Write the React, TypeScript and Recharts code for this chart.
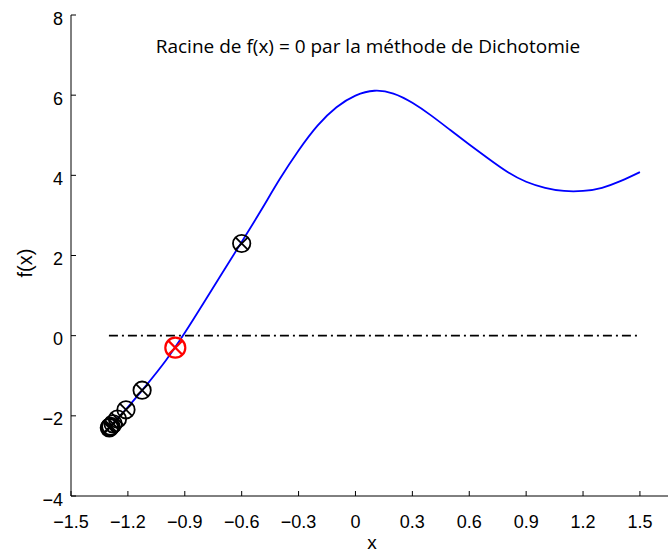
import { ComposedChart, Line, Scatter, XAxis, YAxis } from 'recharts';

// f(x) curve
const CURVE_X = [-1.3, -1.2, -1.1, -1.0, -0.9, -0.8, -0.7, -0.6, -0.5, -0.4, -0.3, -0.2, -0.1, 0.0, 0.1, 0.2, 0.3, 0.4, 0.5, 0.6, 0.7, 0.8, 0.9, 1.0, 1.1, 1.2, 1.3, 1.4, 1.5];
const CURVE_Y = [-2.3, -1.78, -1.22, -0.62, 0.07, 0.82, 1.58, 2.34, 3.11, 3.9, 4.62, 5.24, 5.7, 5.99, 6.11, 6.04, 5.81, 5.49, 5.13, 4.77, 4.42, 4.09, 3.84, 3.69, 3.61, 3.61, 3.69, 3.86, 4.08];

// bisection iterates (black) and the final root (red)
const ITER_X = [-0.6, -1.125, -1.21, -1.255, -1.278, -1.29, -1.295, -1.298];
const ITER_Y = [2.3, -1.36, -1.85, -2.08, -2.2, -2.26, -2.28, -2.3];
const ROOT_X = [-0.95];
const ROOT_Y = [-0.3];

// y = 0 reference
const ZERO_X = [-1.3, 1.5];
const ZERO_Y = [0, 0];

const X_TICKS = [-1.5, -1.2, -0.9, -0.6, -0.3, 0, 0.3, 0.6, 0.9, 1.2, 1.5];
const Y_TICKS = [-4, -2, 0, 2, 4, 6, 8];

const curve = CURVE_X.map((x, i) => ({ x, y: CURVE_Y[i] }));
const iters = ITER_X.map((x, i) => ({ x, y: ITER_Y[i] }));
const root = ROOT_X.map((x, i) => ({ x, y: ROOT_Y[i] }));
const zero = ZERO_X.map((x, i) => ({ x, y: ZERO_Y[i] }));

const AXIS_FONT = '"Liberation Sans", Arial, sans-serif';
const fmt = (v: number) => String(v).replace('-', '\u2212');

function XTick({ x, y, payload }: any) {
  return (
    <g>
      <line x1={x} x2={x} y1={y} y2={y - 5} stroke="#000" strokeWidth={1} />
      <text x={x} y={y + 32} textAnchor="middle" fontSize={18} fontFamily={AXIS_FONT} fill="#000">
        {fmt(payload.value)}
      </text>
    </g>
  );
}

function TopTick({ x, y }: any) {
  return <line x1={x} x2={x} y1={y} y2={y + 5} stroke="#000" strokeWidth={1} />;
}

function YTick({ x, y, payload }: any) {
  return (
    <g>
      <line x1={x} x2={x + 5} y1={y} y2={y} stroke="#000" strokeWidth={1} />
      <text x={x - 8} y={y + 9.5} textAnchor="end" fontSize={18} fontFamily={AXIS_FONT} fill="#000">
        {fmt(payload.value)}
      </text>
    </g>
  );
}

function CrossCircle(color: string, r: number, w: number) {
  return ({ cx, cy }: any) => {
    const d = r * 0.7071;
    return (
      <g>
        <circle cx={cx} cy={cy} r={r} fill="none" stroke={color} strokeWidth={w} />
        <line x1={cx - d} y1={cy - d} x2={cx + d} y2={cy + d} stroke={color} strokeWidth={w} />
        <line x1={cx - d} y1={cy + d} x2={cx + d} y2={cy - d} stroke={color} strokeWidth={w} />
      </g>
    );
  };
}

export default function App() {
  return (
    <div style={{ position: 'absolute', left: 0, top: 0, width: 668, height: 557, background: '#fff' }}>
      <ComposedChart
        width={668}
        height={557}
        margin={{ top: 15, right: 0, bottom: 0, left: 0 }}
      >
        <XAxis
          dataKey="x"
          type="number"
          domain={[-1.5, 1.648]}
          ticks={X_TICKS}
          height={61}
          tickLine={false}
          tickSize={0}
          tickMargin={0}
          tick={<XTick />}
          axisLine={{ stroke: '#000', strokeWidth: 1 }}
          interval={0}
        />
        <XAxis
          xAxisId="top"
          orientation="top"
          dataKey="x"
          type="number"
          domain={[-1.5, 1.648]}
          ticks={X_TICKS}
          height={0}
          tickLine={false}
          tickSize={0}
          tickMargin={0}
          tick={<TopTick />}
          axisLine={{ stroke: '#000', strokeWidth: 1 }}
          interval={0}
        />
        <YAxis
          dataKey="y"
          type="number"
          domain={[-4, 8]}
          ticks={Y_TICKS}
          width={71}
          tickLine={false}
          tickSize={0}
          tickMargin={0}
          tick={<YTick />}
          axisLine={{ stroke: '#000', strokeWidth: 1 }}
          interval={0}
        />
        <Line
          data={zero}
          dataKey="y"
          stroke="#000"
          strokeWidth={1.8}
          strokeDasharray="9 4 2 4"
          dot={false}
          isAnimationActive={false}
        />
        <Line
          data={curve}
          dataKey="y"
          type="natural"
          stroke="#0000ff"
          strokeWidth={1.8}
          dot={false}
          isAnimationActive={false}
        />
        <Scatter data={iters} dataKey="y" shape={CrossCircle('#000', 8.7, 1.8)} isAnimationActive={false} />
        <Scatter data={root} dataKey="y" shape={CrossCircle('#ff0000', 10, 2.2)} isAnimationActive={false} />
      </ComposedChart>
      <div style={{ position: 'absolute', left: 0, width: 736, top: 33, textAlign: 'center', fontFamily: '"Open Sans", sans-serif', fontSize: 19, lineHeight: '26px', color: '#000' }}>
        Racine de f(x) = 0 par la méthode de Dichotomie
      </div>
      <div style={{ position: 'absolute', left: 322, width: 100, top: 532, textAlign: 'center', fontFamily: AXIS_FONT, fontSize: 19, lineHeight: '22px', color: '#000' }}>
        x
      </div>
      <div style={{ position: 'absolute', left: -25, width: 100, top: 251, textAlign: 'center', fontFamily: AXIS_FONT, fontSize: 20, lineHeight: '24px', color: '#000', transform: 'rotate(-90deg)' }}>
        f(x)
      </div>
    </div>
  );
}
